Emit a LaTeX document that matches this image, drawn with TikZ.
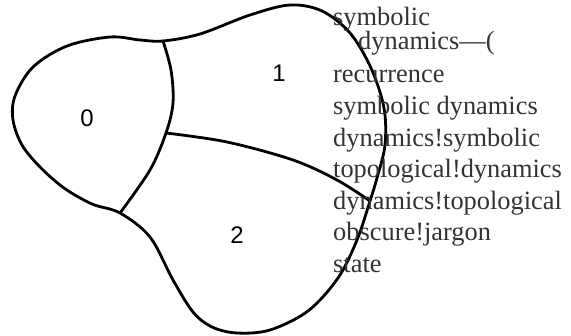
\documentclass[tikz,border=0pt]{standalone}
\usepackage{fontspec}
\setmainfont{Liberation Serif}
\newfontfamily\labelfont{Liberation Sans}
\definecolor{idxtext}{RGB}{51,51,51}
\begin{document}
\begin{tikzpicture}[x=1pt,y=-1pt,
  border/.style={line width=2.8pt,line join=round,line cap=round},
  regionlabel/.style={font=\labelfont\fontsize{24}{28}\selectfont,inner sep=0pt},
  idxline/.style={anchor=base west,inner sep=0pt,text=idxtext,font=\fontsize{26.4}{30}\selectfont}]
\useasboundingbox (0,0) rectangle (571,336);
\coordinate (A) at (163,41);
\coordinate (B) at (120,213);
\coordinate (C) at (166,133);
\coordinate (D) at (370,201);
% outer boundary
\draw[border] plot[smooth cycle,tension=0.55] coordinates {
  (A) (200,34) (250,15) (290,5) (322,11) (350,33) (371,68) (384,108)
  (385,145) (377,178) (D) (357,240) (338,278) (308,311) (270,330)
  (237,333) (212,327) (193,312) (173,280) (150,237) (B) (92,204)
  (64,188) (40,167) (22,145) (13,120) (15,96) (33,67) (67,46) (110,37) (140,40)};
% dividers
\draw[border] plot[smooth,tension=0.55] coordinates {(A) (171,70) (173,103) (C) (150,170) (B)};
\draw[border] plot[smooth,tension=0.55] coordinates {(C) (227,142) (293,160) (337,180) (D)};
% region labels
\node[regionlabel] (n0) at (87,118) {0};
\node[regionlabel] (n1) at (279,73) {1};
\node[regionlabel] (n2) at (237,235) {2};
% index text
\node[idxline] (t1) at (333,26) {symbolic};
\node[idxline] (t2) at (358,50) {dynamics—(};
\node[idxline] (t3) at (333,83) {recurrence};
\node[idxline] (t4) at (333,114.6) {symbolic dynamics};
\node[idxline] (t5) at (333,146.2) {dynamics!symbolic};
\node[idxline] (t6) at (333,177.8) {topological!dynamics};
\node[idxline] (t7) at (333,209.4) {dynamics!topological};
\node[idxline] (t8) at (333,241) {obscure!jargon};
\node[idxline] (t9) at (333,272.6) {state};
\end{tikzpicture}
\end{document}
